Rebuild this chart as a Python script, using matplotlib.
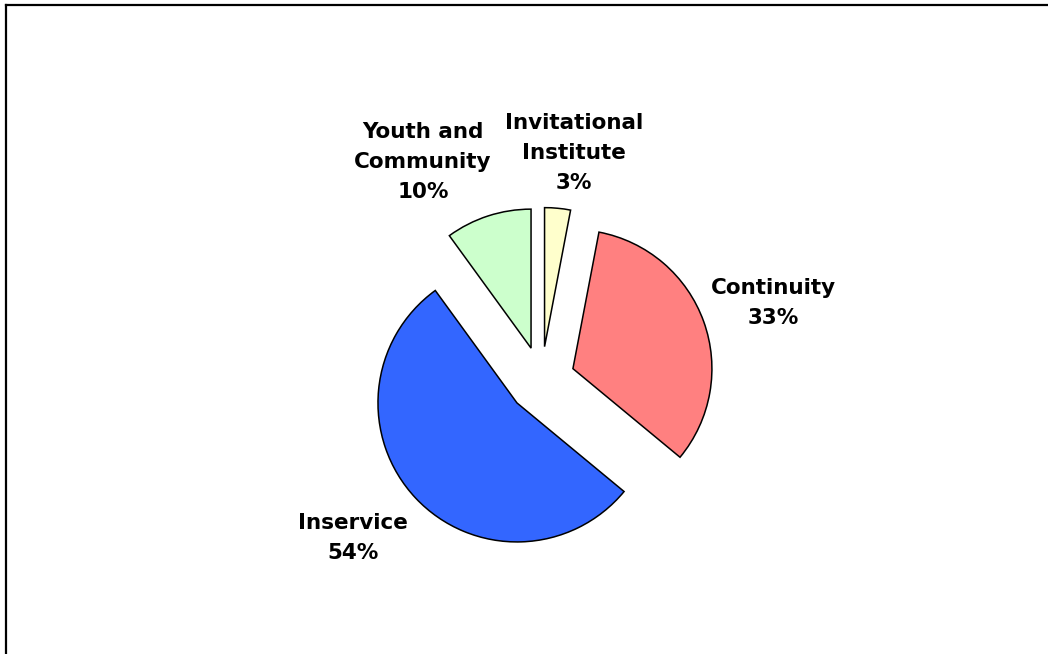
import matplotlib.pyplot as plt
from matplotlib.lines import Line2D

# slice data, clockwise from 12 o'clock
labels = ["Invitational\nInstitute", "Continuity", "Inservice", "Youth and\nCommunity"]
shares = [3, 33, 54, 10]
colors = ["#FFFFCC", "#FF8080", "#3366FF", "#CCFFCC"]

# label positions (pixels, y up)
label_xy = [(574, 501), (773, 351), (353, 116), (423, 492)]

W, H = 1048, 654
fig = plt.figure(figsize=(W / 100, H / 100), dpi=100)
ax = fig.add_axes([0, 0, 1, 1])

r = 139
ax.pie(
    shares,
    colors=colors,
    startangle=90,
    counterclock=False,
    radius=r,
    center=(541.4, H - 380),
    explode=[33.5] * len(shares),  # pixels, matplotlib does not scale by radius
    wedgeprops=dict(edgecolor="black", linewidth=1.1),
    frame=True,
)
ax.set_xlim(0, W)
ax.set_ylim(0, H)
ax.set_aspect("equal")
ax.axis("off")

for lab, val, (x, y) in zip(labels, shares, label_xy):
    ax.text(x, y, f"{lab}\n{val}%", ha="center", va="center",
            fontsize=15.5, fontweight="bold", family="DejaVu Sans",
            linespacing=1.6)

# chart-area frame (left and top edges visible)
fig.add_artist(Line2D([6 / W, 6 / W], [0, 1 - 5 / H], color="black", lw=1.6,
                      transform=fig.transFigure))
fig.add_artist(Line2D([6 / W, 1047 / W], [1 - 5 / H, 1 - 5 / H], color="black",
                      lw=1.6, transform=fig.transFigure))

fig.savefig("out.png", dpi=100, facecolor="white")
